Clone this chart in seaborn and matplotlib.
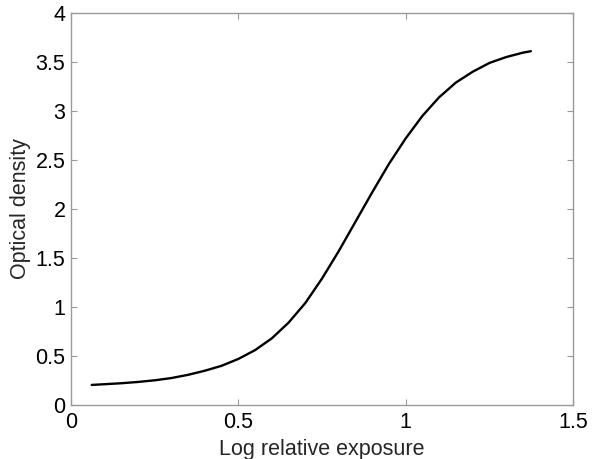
import matplotlib
matplotlib.use("Agg")
import matplotlib.pyplot as plt
import seaborn as sns
import pandas as pd

log_exposure = [0.062, 0.10, 0.15, 0.20, 0.25, 0.30, 0.35, 0.40, 0.45, 0.50,
                0.55, 0.60, 0.65, 0.70, 0.75, 0.80, 0.85, 0.90, 0.95, 1.00,
                1.05, 1.10, 1.15, 1.20, 1.25, 1.30, 1.35, 1.374]
optical_density = [0.205, 0.212, 0.222, 0.235, 0.252, 0.275, 0.308, 0.35, 0.40, 0.47,
                   0.56, 0.68, 0.84, 1.04, 1.29, 1.57, 1.87, 2.17, 2.46, 2.72,
                   2.95, 3.14, 3.29, 3.40, 3.49, 3.55, 3.595, 3.61]
x_ticks = [0, 0.5, 1, 1.5]
x_labels = ["0", "0.5", "1", "1.5"]
y_ticks = [0, 0.5, 1, 1.5, 2, 2.5, 3, 3.5, 4]
y_labels = ["0", "0.5", "1", "1.5", "2", "2.5", "3", "3.5", "4"]

df = pd.DataFrame({"x": log_exposure, "y": optical_density})

sns.set_style("white")
plt.rcParams["font.family"] = ["Liberation Sans", "DejaVu Sans"]

fig = plt.figure(figsize=(5.94, 4.59), dpi=100)
ax = fig.add_axes([71/594, 54/459, 502/594, 392/459])
sns.lineplot(data=df, x="x", y="y", ax=ax, color="black", linewidth=1.7, sort=False)

ax.set_xlim(0, 1.5)
ax.set_ylim(0, 4)
ax.set_xticks(x_ticks)
ax.set_xticklabels(x_labels)
ax.set_yticks(y_ticks)
ax.set_yticklabels(y_labels)
ax.set_xlabel("Log relative exposure", fontsize=15.5, labelpad=4)
ax.set_ylabel("Optical density", fontsize=15.5, labelpad=3)
for s in ax.spines.values():
    s.set_color("#999999")
    s.set_linewidth(1.0)
ax.tick_params(direction="in", length=4, width=0.8, color="#999999",
               labelsize=15.5, labelcolor="black", top=True, right=True,
               bottom=True, left=True)
ax.tick_params(axis="x", pad=5)
ax.tick_params(axis="y", pad=4)
fig.savefig("out.png", dpi=100, facecolor="white")
